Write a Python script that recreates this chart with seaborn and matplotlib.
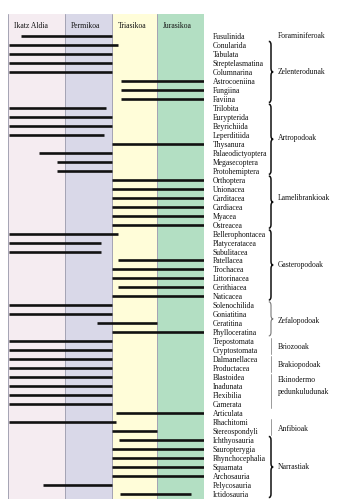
import numpy as np
import pandas as pd
import matplotlib
matplotlib.use("Agg")
import matplotlib.pyplot as plt
import matplotlib.transforms as mtransforms
from matplotlib.path import Path
from matplotlib.patches import PathPatch
import seaborn as sns

# ---------------- data ----------------
periods = ["Ikatz Aldia", "Permikoa", "Triasikoa", "Jurasikoa"]
period_start = [345, 288, 241, 196]   # Ma (chart scale)
period_end = [288, 241, 196, 149]
period_colors = ["#F5ECF1", "#D9D8E8", "#FFFDD9", "#B3DFC3"]

taxa = ["Fusulinida", "Conularida", "Tabulata", "Streptelasmatina", "Columnarina",
        "Astrocoeniina", "Fungiina", "Faviina", "Trilobita", "Eurypterida",
        "Beyrichiida", "Leperditiida", "Thysanura", "Palaeodictyoptera",
        "Megasecoptera", "Protohemiptera", "Orthoptera", "Unionacea", "Carditacea",
        "Cardiacea", "Myacea", "Ostreacea", "Bellerophontacea", "Platyceratacea",
        "Subulitacea", "Patellacea", "Trochacea", "Littorinacea", "Cerithiacea",
        "Naticacea", "Solenochilida", "Goniatitina", "Ceratitina", "Phylloceratina",
        "Trepostomata", "Cryptostomata", "Dalmanellacea", "Productacea", "Blastoidea",
        "Inadunata", "Flexibilia", "Camerata", "Articulata", "Rhachitomi",
        "Stereospondyli", "Ichthyosauria", "Sauropterygia", "Rhynchocephalia",
        "Squamata", "Archosauria", "Pelycosauria", "Ictidosauria"]

first_ma = [332, 344, 344, 344, 344, 232, 232, 232, 344, 344,
            344, 344, 241, 314, 296, 296, 241, 241, 241, 241,
            241, 241, 344, 344, 344, 235, 241, 241, 235, 241,
            344, 344, 256, 241, 344, 344, 344, 344, 344, 344,
            344, 344, 237, 344, 241, 234, 241, 241, 241, 241,
            310, 233]
last_ma = [241, 235, 241, 241, 241, 149, 149, 149, 247, 241,
           241, 249, 149, 241, 241, 241, 149, 149, 149, 149,
           149, 149, 235, 252, 252, 149, 149, 149, 149, 149,
           241, 241, 196, 149, 241, 241, 241, 241, 241, 241,
           241, 241, 149, 237, 196, 149, 149, 149, 149, 149,
           241, 162]

groups = ["Foraminiferoak", "Zelenterodunak", "Artropodoak", "Lamelibrankioak",
          "Gasteropodoak", "Zefalopodoak", "Briozooak", "Brakiopodoak",
          "Ekinodermo\npedunkuludunak", "Anfibioak", "Narrastiak"]
group_first = ["Fusulinida", "Conularida", "Trilobita", "Orthoptera",
               "Bellerophontacea", "Solenochilida", "Trepostomata", "Dalmanellacea",
               "Blastoidea", "Rhachitomi", "Ichthyosauria"]
group_last = ["Fusulinida", "Faviina", "Protohemiptera", "Ostreacea",
              "Naticacea", "Phylloceratina", "Cryptostomata", "Productacea",
              "Camerata", "Stereospondyli", "Ictidosauria"]
group_mark = ["none", "brace", "brace", "brace", "brace", "greybrace",
              "line", "line", "line", "line", "brace"]
label_shift = [0, 0, -0.1, -0.5, 0, 0.2, 0.1, 0.1, -0.5, 0.3, 0]

# ---------------- figure ----------------
sns.set_style("white")
plt.rcParams["font.family"] = ["Liberation Serif", "DejaVu Serif"]

W, H = 343, 503
fig = plt.figure(figsize=(W / 100, H / 100), dpi=100)
ax = fig.add_axes([8 / W, 4 / H, 196 / W, 485 / H])

rows = np.arange(len(taxa))
df = pd.DataFrame({
    "taxon": taxa * 2,
    "Ma": first_ma + last_ma,
    "row": list(rows) * 2,
})

# period columns
for p, s, e, c in zip(periods, period_start, period_end, period_colors):
    ax.axvspan(s, e, color=c, lw=0, zorder=0)
for s in period_start:
    ax.axvline(s, color="#A4A3B4", lw=0.7, zorder=1)

sns.lineplot(data=df, x="Ma", y="row", units="taxon", estimator=None,
             sort=False, color="#111111", linewidth=1.9, legend=False,
             solid_capstyle="butt", ax=ax, zorder=3)

FS = 5.5
TXT = "#111111"
ax.set_xlim(345, 149)
ax.set_ylim(51.56, -2.45)
for sp in ax.spines.values():
    sp.set_visible(False)
ax.set_xlabel("")
ax.set_ylabel("")
ax.set_xticks([])
ax.yaxis.tick_right()
ax.set_yticks(rows)
ax.set_yticklabels(taxa, fontsize=FS, color=TXT)
ax.tick_params(axis="y", length=0, pad=6.2)

# period headers
for p, s in zip(periods, period_start):
    ax.text(s - 6, -1.1, p, fontsize=FS, ha="left", va="center", color=TXT)

# group annotations
tr = mtransforms.blended_transform_factory(fig.transFigure, ax.transData)
bx = 271 / W
lx = 278 / W
dx = 2.2 / W
d = 0.4
for g, gf, gl, mk, sh in zip(groups, group_first, group_last, group_mark, label_shift):
    i0 = taxa.index(gf)
    i1 = taxa.index(gl)
    ym = (i0 + i1) / 2
    ax.text(lx, ym + sh, g, transform=tr, fontsize=FS, ha="left", va="center",
            color=TXT, linespacing=1.6, clip_on=False)
    if mk == "none":
        continue
    y0 = i0 - 0.4
    y1 = i1 + 0.4
    if mk == "line":
        ax.plot([bx, bx], [y0, y1], transform=tr, color="#8A8A8A", lw=0.6,
                clip_on=False)
        continue
    verts = [(bx - dx, y0), (bx, y0), (bx, y0 + d),
             (bx, ym - d),
             (bx, ym), (bx + dx, ym),
             (bx, ym), (bx, ym + d),
             (bx, y1 - d),
             (bx, y1), (bx - dx, y1)]
    codes = [Path.MOVETO, Path.CURVE3, Path.CURVE3,
             Path.LINETO,
             Path.CURVE3, Path.CURVE3,
             Path.CURVE3, Path.CURVE3,
             Path.LINETO,
             Path.CURVE3, Path.CURVE3]
    col = "#111111" if mk == "brace" else "#777777"
    lw = 1.1 if mk == "brace" else 0.8
    patch = PathPatch(Path(verts, codes), transform=tr, fill=False,
                      edgecolor=col, lw=lw, clip_on=False)
    ax.add_patch(patch)

fig.savefig("out.png", dpi=100)
